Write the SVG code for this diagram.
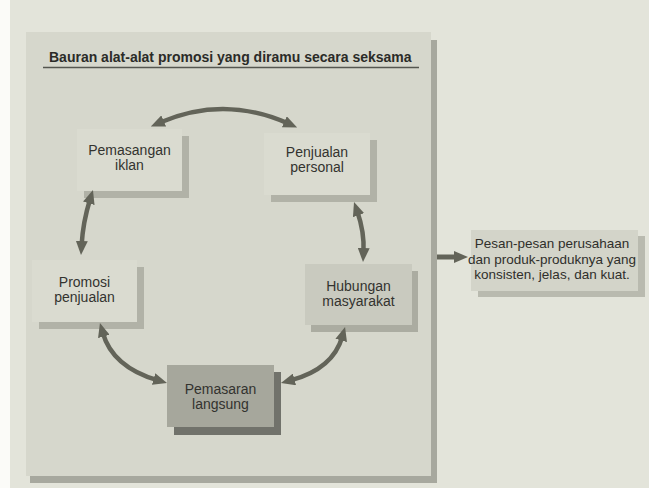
<svg xmlns="http://www.w3.org/2000/svg" width="649" height="488" viewBox="0 0 649 488">
  <style>
    .t { font-family: "Liberation Sans", Arial, sans-serif; font-size: 14px; fill: #33332f; text-anchor: middle; }
    .title { font-family: "Liberation Sans", Arial, sans-serif; font-size: 14px; font-weight: bold; fill: #2b2b28; }
    .msg { font-family: "Liberation Sans", Arial, sans-serif; font-size: 13.5px; fill: #2f2f2b; text-anchor: middle; }
    .face { fill: #dadbd0; }
    .shadow { fill: #b1b2a7; }
    .conn { fill: none; stroke: #636459; stroke-width: 4.5; marker-start: url(#ah); marker-end: url(#ah); }
  </style>
  <defs>
    <marker id="ah" viewBox="0 0 14 12" refX="4" refY="6" markerWidth="14" markerHeight="12" markerUnits="userSpaceOnUse" orient="auto-start-reverse">
      <path d="M0,0 L14,6 L0,12 z" fill="#636459"/>
    </marker>
    <marker id="ah1" viewBox="0 0 14 12" refX="4" refY="6" markerWidth="14" markerHeight="12" markerUnits="userSpaceOnUse" orient="auto">
      <path d="M0,0 L14,6 L0,12 z" fill="#636459"/>
    </marker>
  </defs>

  <!-- page -->
  <rect x="0" y="0" width="649" height="488" fill="#e3e4da"/>
  <rect x="0" y="0" width="10" height="488" fill="#fbfbf8"/>

  <!-- panel -->
  <g id="panel">
    <rect x="30" y="40" width="407" height="443" fill="#a7a89e"/>
    <rect x="26" y="32" width="405" height="444" fill="#d6d7cc"/>
  </g>

  <g id="title">
    <text class="title" x="49" y="62">Bauran alat-alat promosi yang diramu secara seksama</text>
    <line x1="43" y1="67.5" x2="419" y2="67.5" stroke="#55564f" stroke-width="1.5"/>
  </g>

  <g id="node-pemasangan-iklan">
    <rect class="shadow" x="84" y="136" width="105" height="62"/>
    <rect class="face" x="77" y="129" width="105" height="62"/>
    <text class="t" x="129.5" y="155">Pemasangan</text>
    <text class="t" x="129.5" y="170">iklan</text>
  </g>

  <g id="node-penjualan-personal">
    <rect class="shadow" x="271" y="140" width="106" height="62"/>
    <rect class="face" x="264" y="133" width="106" height="62"/>
    <text class="t" x="317" y="157">Penjualan</text>
    <text class="t" x="317" y="172">personal</text>
  </g>

  <g id="node-promosi-penjualan">
    <rect class="shadow" x="39" y="267" width="105" height="62"/>
    <rect class="face" x="32" y="260" width="105" height="62"/>
    <text class="t" x="84.5" y="287">Promosi</text>
    <text class="t" x="84.5" y="302">penjualan</text>
  </g>

  <g id="node-hubungan-masyarakat">
    <rect x="311" y="271" width="107" height="61" fill="#abaca1"/>
    <rect x="305" y="264" width="107" height="61" fill="#c9cabf"/>
    <text class="t" x="358.5" y="291">Hubungan</text>
    <text class="t" x="358.5" y="306">masyarakat</text>
  </g>

  <g id="node-pemasaran-langsung">
    <rect x="174" y="372" width="107" height="63" fill="#71726b"/>
    <rect x="167" y="365" width="107" height="62" fill="#a6a79c"/>
    <text class="t" x="220.5" y="394">Pemasaran</text>
    <text class="t" x="220.5" y="409">langsung</text>
  </g>

  <g id="node-pesan">
    <rect x="478" y="236" width="167" height="61" fill="#b9baaf"/>
    <rect x="471" y="230" width="167" height="61" fill="#d3d4c9"/>
    <text class="msg" x="552" y="248">Pesan-pesan perusahaan</text>
    <text class="msg" x="552" y="264">dan produk-produknya yang</text>
    <text class="msg" x="552" y="279">konsisten, jelas, dan kuat.</text>
  </g>

  <g id="connectors">
    <path class="conn" d="M160,122.5 Q224,95 288,123.4"/>
    <path class="conn" d="M90,199.5 Q83,222 81.6,245"/>
    <path class="conn" d="M357.3,211.4 Q364.5,232 363.5,252"/>
    <path class="conn" d="M102.7,332.6 Q112.5,367 157.4,380.2"/>
    <path class="conn" d="M342.3,336.6 Q333,369 290.6,380.4"/>
    <path d="M437,257 L458,257" fill="none" stroke="#636459" stroke-width="5" marker-end="url(#ah1)"/>
  </g>
</svg>
